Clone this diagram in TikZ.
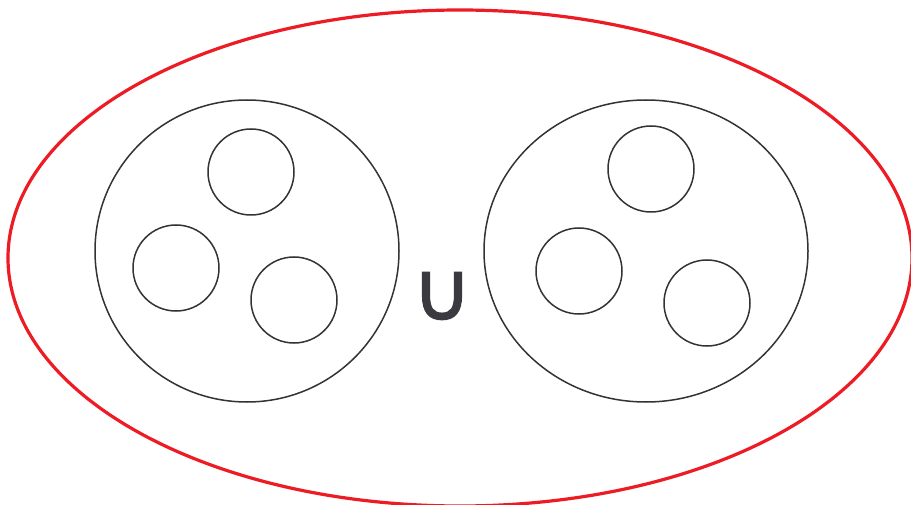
\documentclass[tikz,border=0pt]{standalone}
\usepackage{fontspec}
\newfontfamily\symfont[FakeBold=1.5]{DejaVu Sans}
\definecolor{redline}{HTML}{ED1C24}
\definecolor{grayline}{HTML}{333333}
\definecolor{symcol}{HTML}{3A3A40}
\begin{document}
\begin{tikzpicture}[x=1pt,y=-1pt,
  outer/.style={draw=redline,line width=3.2pt},
  setshape/.style={draw=grayline,line width=1.5pt},
  elem/.style={draw=grayline,line width=1.5pt}]
\path[use as bounding box] (0,0) rectangle (911,505);
\begin{scope}
\clip (0,0) rectangle (911,505);
\draw[outer] (460,258) ellipse [x radius=452, y radius=248];
\end{scope}
\draw[setshape] (247,251) ellipse [x radius=152, y radius=151];
\draw[setshape] (646,251) ellipse [x radius=162, y radius=151];
\draw[elem] (251,172) circle [radius=43];
\draw[elem] (176,268) circle [radius=43];
\draw[elem] (294,300) circle [radius=43];
\draw[elem] (651,169) circle [radius=43];
\draw[elem] (579,271) circle [radius=43];
\draw[elem] (707,303) circle [radius=43];
\node[text=symcol,font=\symfont\fontsize{82}{82}\selectfont,inner sep=0pt] (cup) at (442,296) {∪};
\end{tikzpicture}
\end{document}
